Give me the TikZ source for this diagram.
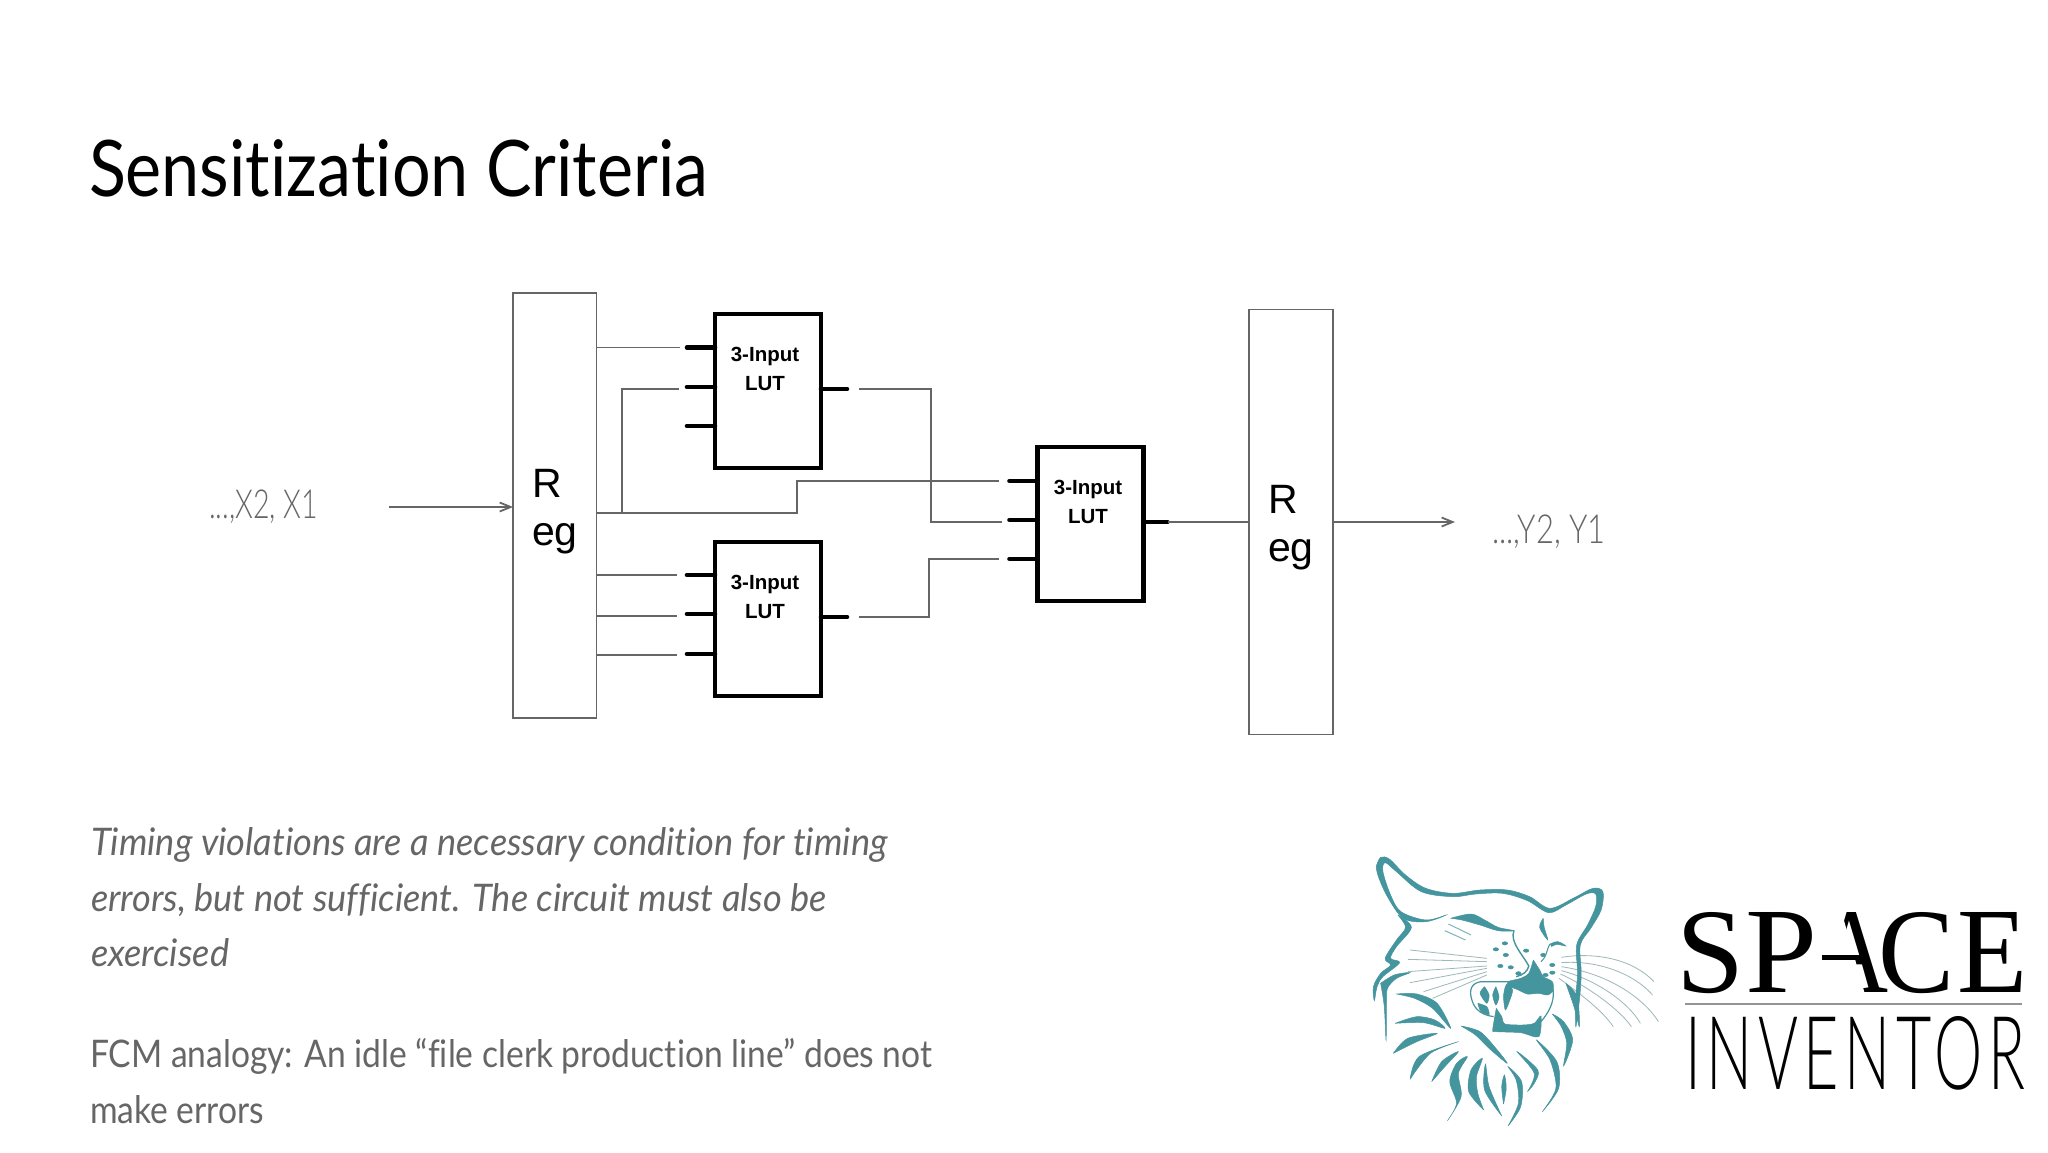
\documentclass[tikz,border=0pt]{standalone}
\usepackage{fontspec}
\setmainfont{Liberation Sans}
\newfontfamily\thinf[FakeStretch=0.84,Ligatures=NoCommon]{Lato Light}
\newfontfamily\titlef[FakeStretch=0.875,Ligatures=NoCommon]{Lato}
\newfontfamily\bodyf[FakeStretch=0.884,Ligatures=NoCommon]{Lato}
\newfontfamily\bodyif[FakeStretch=0.953,Ligatures=NoCommon]{Lato}
\newfontfamily\invf[FakeStretch=0.76,LetterSpace=7]{Lato Light}
\newfontfamily\arialf{Liberation Sans}
\newfontfamily\slabf{Liberation Serif}
\definecolor{wire}{HTML}{666666}
\definecolor{txtgray}{HTML}{666666}
\definecolor{catc}{HTML}{45959F}
\definecolor{whisk}{HTML}{9DB8B8}
\newcommand{\letbox}[4]{\makebox[#1pt][c]{\resizebox{#2pt}{#3pt}{#4}}}
\usetikzlibrary{arrows.meta}
\tikzset{
  regbox/.style={draw=wire,line width=1.8pt,fill=white,minimum width=83.5pt,inner sep=0pt,outer sep=0pt},
  lutbox/.style={draw=black,line width=4.5pt,fill=white,minimum width=106pt,minimum height=154pt,inner sep=0pt,outer sep=0pt},
  pin/.style={line width=4.6pt,line cap=round,black},
  wireln/.style={draw=wire,line width=1.8pt},
  arrowln/.style={wireln,-{Straight Barb[length=11pt,width=9pt]}},
  lab/.style={anchor=base west,inner sep=0pt,outer sep=0pt},
  luttxt/.style={font=\arialf\bfseries\fontsize{20.5}{29.5}\selectfont,align=center,inner sep=0pt,text=black},
  regtxt/.style={lab,font=\arialf\fontsize{41}{41}\selectfont,text=black},
  body/.style={lab,text=txtgray,font=\bodyf\fontsize{38}{56}\selectfont},
  bodyi/.style={lab,text=txtgray,font=\bodyif\itshape\fontsize{38}{56}\selectfont},
  sig/.style={lab,text=txtgray,font=\thinf\fontsize{40}{40}\selectfont},
  catf/.style={fill=catc,draw=catc,line width=0.5pt},
  whl/.style={draw=whisk,line width=0.8pt},
}
\begin{document}
\begin{tikzpicture}[x=1pt,y=-1pt]
\useasboundingbox[fill=white] (0,0) rectangle (2048,1152);
\node[lab,text=black,font=\titlef\fontsize{78}{78}\selectfont] (title) at (89,196) {Sensitization Criteria};

\node[regbox,minimum height=425pt] (reg1) at (554.8,505.5) {};
\node[regbox,minimum height=425pt] (reg2) at (1291,522) {};
\node[lutbox] (lut1) at (768,391) {};
\node[lutbox] (lut2) at (768,619) {};
\node[lutbox] (lut3) at (1090.5,524) {};

\node[regtxt] (r1a) at (532,497) {R};
\node[regtxt] (r1b) at (532,545) {eg};
\node[regtxt] (r2a) at (1268,513) {R};
\node[regtxt] (r2b) at (1268,561) {eg};

\node[luttxt] (t1) at (765,369) {3-Input\\LUT};
\node[luttxt] (t2) at (765,597) {3-Input\\LUT};
\node[luttxt] (t3) at (1088,502) {3-Input\\LUT};

% pins
\foreach \n/\y in {a/347.5,b/387,c/426}{
  \coordinate (l1\n) at (lut1.west |- 0,\y);
  \draw[pin] (l1\n) -- ++(-28,0) coordinate (l1\n s);}
\foreach \n/\y in {a/575,b/614,c/654}{
  \coordinate (l2\n) at (lut2.west |- 0,\y);
  \draw[pin] (l2\n) -- ++(-28,0) coordinate (l2\n s);}
\foreach \n/\y in {a/481,b/520,c/559}{
  \coordinate (l3\n) at (lut3.west |- 0,\y);
  \draw[pin] (l3\n) -- ++(-28,0) coordinate (l3\n s);}
\coordinate (o1) at (lut1.east |- 0,389);
\coordinate (o2) at (lut2.east |- 0,617);
\coordinate (o3) at (lut3.east |- 0,522);
\draw[pin] (o1) -- ++(26,0);
\draw[pin] (o2) -- ++(26,0);
\draw[pin] (o3) -- ++(24,0) coordinate (o3e);

% wires
\coordinate (e1) at (reg1.east |- 0,347.5);
\coordinate (e2) at (reg1.east |- 0,513);
\coordinate (e3) at (reg1.east |- 0,575);
\coordinate (e4) at (reg1.east |- 0,616);
\coordinate (e5) at (reg1.east |- 0,655);
\draw[wireln] (e1) -- (680,347.5);
\draw[wireln] (622,513) -- (622,389) -- (679,389);
\draw[wireln] (e2) -- (797,513) -- (797,481) -- (999,481);
\draw[wireln] (e3) -- (677,575);
\draw[wireln] (e4) -- (677,616);
\draw[wireln] (e5) -- (677,655);
\draw[wireln] (859,389) -- (931,389) -- (931,522) -- (1002,522);
\draw[wireln] (859,617) -- (929,617) -- (929,559) -- (999,559);
\draw[wireln] (o3e) -- (reg2.west |- o3e);
\coordinate (in) at (389,507);
\draw[arrowln] (in) -- (reg1.west |- in);
\coordinate (ro) at (reg2.east |- o3);
\coordinate (outp) at (1455,522);
\draw[arrowln] (ro) -- (outp);

\node[sig] (xl) at (209,518) {\scalebox{0.85}[1]{...,X2, X1}};
\node[sig] (yl) at (1492,543) {\scalebox{0.92}[1]{...,Y2, Y1}};

\node[bodyi] (p1) at (91,855) {Timing violations are a necessary condition for timing};
\node[bodyi] (p2) at (91,911) {errors, but not sufficient. The circuit must also be};
\node[bodyi] (p3) at (91,966) {exercised};
\node[body] (p4) at (90,1067) {FCM analogy: An idle “file clerk production line” does not};
\node[body] (p5) at (90,1123) {make errors};

% logo
\node[lab,text=black,inner sep=0pt] (sp) at (1684,992) {\slabf\letbox{54}{68}{80}{S}\letbox{88}{72}{80}{P}\letbox{52}{72}{80}{A}\letbox{78}{76}{80}{C}\letbox{74}{70}{80}{E}};
\coordinate (pa) at (1812,998);
\coordinate (pb) at (1812,905);
\coordinate (pd) at (1839,903);
\coordinate (pf) at (1866,998);
\fill[white] (pa) -- (pb) -- (pd) -- (pf) -- cycle;
\coordinate (ba) at (1822,955);
\coordinate (bb) at (1862,960);
\fill[black] (ba) rectangle (bb);
\node[lab,text=black,inner sep=0pt] (inv) at (1685,1089) {\resizebox{340pt}{73pt}{\invf INVENTOR}};
\coordinate (ruleA) at (1685,1004);
\coordinate (ruleB) at (2022,1004);
\draw[draw=wire!70,line width=1.2pt] (ruleA) -- (ruleB);

\begin{scope}[shift={(1340,840)},x=0.4517pt,y=-0.3333pt]
% whiskers
\draw[whl] (325,355) -- (155,330);
\draw[whl] (325,365) -- (150,358);
\draw[whl] (325,378) -- (150,395);
\draw[whl] (325,385) -- (155,428);
\draw[whl] (325,395) -- (185,455);
\draw[whl] (325,405) -- (205,475);
\draw[whl] (490,352) .. controls (570,335) and (650,360) .. (695,425);
\draw[whl] (490,368) .. controls (570,360) and (650,400) .. (692,465);
\draw[whl] (490,380) .. controls (590,400) and (670,470) .. (705,545);
\draw[whl] (490,392) .. controls (570,420) and (640,490) .. (665,550);
\draw[whl] (488,402) .. controls (550,440) and (620,510) .. (645,560);
\draw[whl] (485,415) .. controls (530,460) and (580,510) .. (605,560);
% ear, top of head, right ear and right side
\fill[catf] plot[smooth,tension=0.55] coordinates {(80,80)(90,52)(110,58)(145,105)(190,145)(250,160)(310,150)(370,150)(420,170)(465,205)(520,172)(560,145)(582,155)(578,210)(555,265)(532,315)(534,400)(530,480)(522,560)
 (522,470)(526,400)(524,315)(548,255)(566,200)(566,162)(545,162)(500,195)(462,218)(415,182)(360,160)(300,162)(250,170)(180,155)(125,95)(100,68)(95,95)(112,165)(135,215)(190,240)(235,225)(190,245)(140,235)(105,170)(85,110)(80,80)};
% left side of the head
\fill[catf] plot[smooth,tension=0.55] coordinates {(128,225)(158,262)(125,320)(112,355)(132,368)(95,410)(82,440)(76,482)(74,440)(90,400)(112,375)(100,355)(125,300)(145,262)(128,225)};
\fill[catf] plot[smooth,tension=0.55] coordinates {(90,430)(120,405)(155,398)(125,415)(105,445)(103,480)(102,600)(98,500)(90,430)};
% brow
\fill[catf] plot[smooth,tension=0.55] coordinates {(245,235)(290,222)(320,240)(350,262)(385,272)(350,272)(310,255)(270,240)(245,235)};
\draw[catc!70,line width=1pt] (240,252) -- (290,285);
\draw[catc!70,line width=1pt] (232,272) -- (278,300);
% nose bridge and cheek
\draw[catc,line width=1.4pt] (385,272) .. controls (375,305) and (405,345) .. (418,378) .. controls (415,395) and (405,405) .. (390,410);
% right eye and brow
\fill[catf] plot[smooth,tension=0.55] coordinates {(450,235)(442,262)(460,300)(452,262)(450,235)};
\fill[catf] plot[smooth,tension=0.55] coordinates {(465,312)(482,305)(500,318)(480,313)(468,320)};
\draw[catc,line width=1pt] (465,312) .. controls (455,335) and (460,345) .. (445,365);
% snout dots
\foreach \p in {(345,328),(367,345),(365,310),(355,378),(378,382),(395,400),(412,332),(450,345),(470,375),(455,405),(470,398)}{
  \fill[catf] \p circle[x radius=6,y radius=5];}
% nose and upper jaw
\fill[catf] plot[smooth,tension=0.45] coordinates {(428,360)(442,390)(450,410)(470,425)(472,450)(460,465)(440,460)(415,462)(395,450)(378,440)(372,425)(400,415)(418,400)(428,360)};
\fill[catf] plot[smooth,tension=0.45] coordinates {(372,428)(382,450)(376,480)(366,510)(362,470)(366,440)(372,428)};
% mouth outline
\draw[catc,line width=1.2pt] (372,425) -- (312,425) .. controls (290,430) and (285,450) .. (292,480) .. controls (298,510) and (315,525) .. (340,530);
\draw[catc,line width=1.2pt] (472,450) .. controls (475,490) and (460,520) .. (445,545);
\fill[catf] plot[smooth,tension=0.45] coordinates {(320,440)(330,465)(325,490)(310,460)(320,440)};
\fill[catf] plot[smooth,tension=0.45] coordinates {(345,440)(352,470)(345,495)(338,465)(345,440)};
\fill[catf] plot[smooth,tension=0.45] coordinates {(305,490)(325,500)(330,525)(312,515)(305,490)};
% lower jaw
\fill[catf] plot[smooth,tension=0.45] coordinates {(346,505)(358,530)(365,552)(405,555)(430,550)(445,528)(440,590)(400,578)(345,575)(338,570)(346,505)};
% right cheek fur
\fill[catf] plot[smooth,tension=0.5] coordinates {(470,522)(495,545)(515,600)(495,678)(502,610)(490,560)(470,522)};
\fill[catf] plot[smooth,tension=0.5] coordinates {(500,430)(525,470)(530,560)(518,500)(500,430)};
% fur tufts left
\fill[catf] plot[smooth,tension=0.5] coordinates {(125,462)(170,462)(215,490)(245,565)(205,505)(165,475)(125,462)};
\fill[catf] plot[smooth,tension=0.5] coordinates {(122,550)(170,530)(210,540)(232,565)(185,548)(122,550)};
\fill[catf] plot[smooth,tension=0.5] coordinates {(118,640)(150,595)(215,580)(170,605)(118,640)};
\fill[catf] plot[smooth,tension=0.5] coordinates {(155,718)(175,650)(262,605)(200,640)(155,718)};
\fill[catf] plot[smooth,tension=0.5] coordinates {(203,725)(225,665)(262,635)(232,680)(203,725)};
\fill[catf] plot[smooth,tension=0.5] coordinates {(268,558)(310,575)(345,625)(370,670)(330,625)(300,585)(268,558)};
% beard
\fill[catf] plot[smooth,tension=0.5] coordinates {(238,842)(258,790)(243,725)(258,670)(282,650)(262,700)(268,770)(238,842)};
\fill[catf] plot[smooth,tension=0.5] coordinates {(318,810)(285,755)(290,690)(315,655)(302,710)(305,760)(318,810)};
\fill[catf] plot[smooth,tension=0.5] coordinates {(358,828)(320,750)(322,672)(330,740)(358,828)};
\fill[catf] plot[smooth,tension=0.5] coordinates {(362,792)(358,740)(364,705)(368,745)(362,792)};
\fill[catf] plot[smooth,tension=0.5] coordinates {(372,858)(395,790)(390,720)(372,680)(402,725)(400,800)(372,858)};
\fill[catf] plot[smooth,tension=0.5] coordinates {(415,755)(430,700)(392,635)(438,690)(430,730)(415,755)};
\fill[catf] plot[smooth,tension=0.5] coordinates {(448,815)(478,745)(465,660)(435,600)(480,665)(484,745)(448,815)};
\end{scope}
\end{tikzpicture}
\end{document}
